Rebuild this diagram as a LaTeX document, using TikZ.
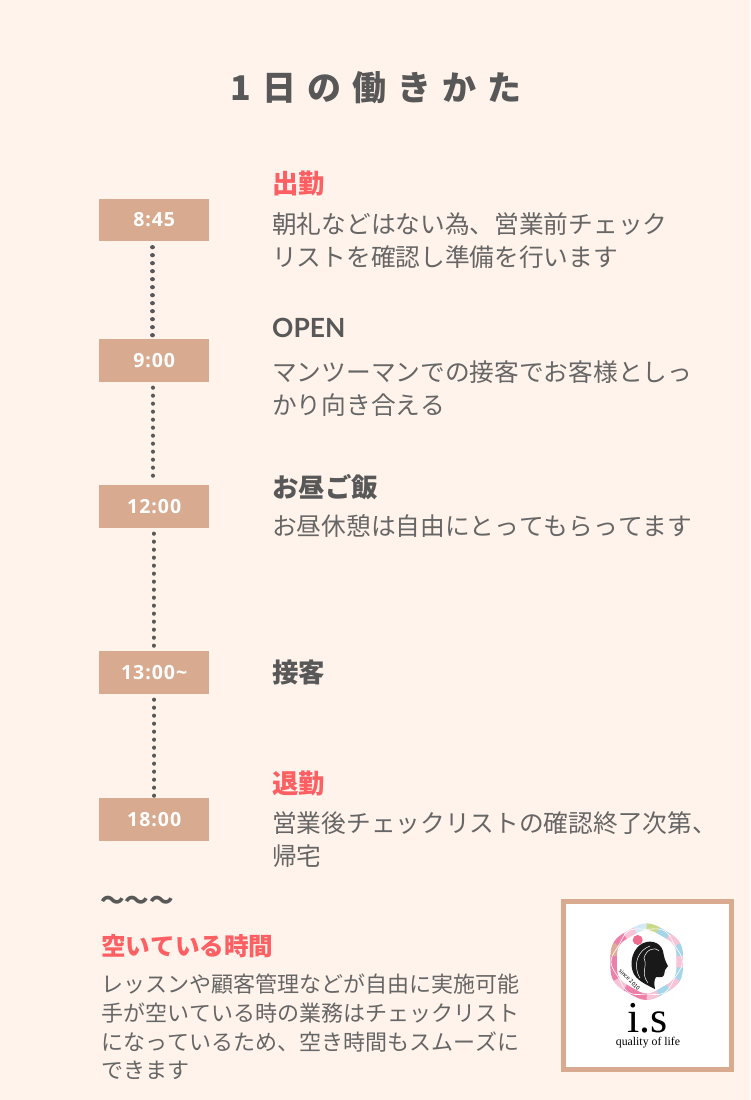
\documentclass[tikz,border=0pt]{standalone}
\usepackage{fontspec}
\setmainfont{Noto Sans CJK JP}[RawFeature=-kern]
\newfontfamily\logofont{Liberation Serif}
\newfontfamily\latinfont{Lato}
\newfontfamily\timefont{Open Sans}[LetterSpace=5]
\definecolor{bgpeach}{HTML}{FFF3EB}
\definecolor{boxtan}{HTML}{D8AB90}
\definecolor{inkgray}{HTML}{585858}
\definecolor{bodygray}{HTML}{666666}
\definecolor{headred}{HTML}{FD5F63}
\definecolor{ringpink}{HTML}{EE7FA8}
\definecolor{ringrose}{HTML}{F7C3D6}
\definecolor{ringblue}{HTML}{A5D5E8}
\definecolor{ringgreen}{HTML}{C9D98A}
\newcommand{\fsz}[2]{\fontsize{#1}{#2}\selectfont}

\begin{document}
\begin{tikzpicture}[x=1pt,y=-1pt,
    timebox/.style={fill=boxtan,text=white,minimum width=110.5pt,minimum height=42.5pt,inner sep=0pt,font=\timefont\fsz{19.5}{22}\bfseries},
    dotline/.style={line width=4.2pt,line cap=round,dash pattern=on 0.01pt off 7.99pt,inkgray},
    titletext/.style={anchor=west,inner sep=0pt,text=inkgray,font=\fsz{26.4}{32}\bfseries},
    redtext/.style={titletext,text=headred},
    bodytext/.style={anchor=north west,inner sep=0pt,align=left,text=bodygray,font=\fsz{24.7}{33}},
    smalltext/.style={bodytext,font=\fsz{22}{28.7}},
    logotext/.style={inner sep=0pt,text=black}]

    \useasboundingbox (0,0) rectangle (750,1100);
    \fill[bgpeach] (0,0) rectangle (750,1100);

    \node[inner sep=0pt,text=inkgray,font=\fsz{34}{40}\bfseries] (title) at (376,88) {1\hspace{11pt}日\hspace{11pt}の\hspace{11pt}働\hspace{11pt}き\hspace{11pt}か\hspace{11pt}た};

    % time column
    \node[timebox] (t845) at (154.2,220) {8:45};
    \node[timebox] (t900) at (154.2,360.5) {9:00};
    \node[timebox] (t1200) at (154.2,506.5) {12:00};
    \node[timebox] (t1300) at (154.2,672.5) {13:00\char"7E};
    \node[timebox] (t1800) at (154.2,819.5) {18:00};
    \foreach \a/\b/\dx in {t845/t900/-1.7,t900/t1200/-1.2,t1200/t1300/-0.6,t1300/t1800/0}
        \draw[dotline] ([xshift=\dx pt,yshift=-5.7pt]\a.south) -- ([xshift=\dx pt,yshift=2pt]\b.north);

    % right column
    \node[redtext] (go) at (272,184) {出勤};
    \node[bodytext] (gotext) at (272,212) {朝礼などはない為、営業前チェック\\リストを確認し準備を行います};
    \node[titletext,font=\latinfont\fsz{26.4}{32}\bfseries] (open) at (272,328) {OPEN};
    \node[bodytext] (opentext) at (272,361) {マンツーマンでの接客でお客様としっ\\かり向き合える};
    \node[titletext] (lunch) at (272,487) {お昼ご飯};
    \node[bodytext] (lunchtext) at (272,514) {お昼休憩は自由にとってもらってます};
    \node[titletext] (serve) at (272,672) {接客};
    \node[redtext] (leave) at (272,783) {退勤};
    \node[bodytext] (leavetext) at (272,811) {営業後チェックリストの確認終了次第、\\帰宅};

    % bottom left
    \node[anchor=west,inner sep=0pt,text=inkgray,font=\fsz{24.5}{30}\bfseries] (wave) at (100,903) {〜〜〜};
    \node[redtext,font=\fsz{24.6}{30}\bfseries] (free) at (101,946) {空いている時間};
    \node[smalltext] (freetext) at (101,974) {レッスンや顧客管理などが自由に実施可能\\手が空いている時の業務はチェックリスト\\になっているため、空き時間もスムーズに\\できます};

    % logo
    \node[draw=boxtan,line width=5pt,fill=white,minimum width=168pt,minimum height=168pt,inner sep=0pt] (logobox) at (647.3,985.5) {};
    \foreach \s/\c in {-30/ringblue,-10/ringrose,10/ringblue,30/ringrose,50/ringblue,70/ringrose,90/ringpink,110/ringpink,130/ringrose,150/ringpink,170/ringpink,190/ringgreen!50!ringpink,210/ringpink,230/ringrose,250/ringblue!50,270/ringgreen,290/ringblue,310/ringrose}
        \draw[\c,line width=6.5pt] plot[domain=\s:\s+21,samples=10] ({646.7+(34-cos(6*\x))*cos(\x)},{961.7+(34-cos(6*\x))*sin(\x)});
    \draw[white,line width=0.6pt] plot[domain=0:360,samples=90] ({646.7+(34+1.6*cos(6*\x))*cos(\x)},{961.7+(34+1.6*cos(6*\x))*sin(\x)});
    \fill[ringpink!85!red] (637.7,940) circle[radius=5];
    \fill[black!90] (655,989) .. controls (645,984) and (636,980) .. (633,972)
        .. controls (630,965) and (631,952) .. (640,945)
        .. controls (648,939) and (660,941) .. (663,951)
        .. controls (664,957) and (665,961) .. (668,966)
        .. controls (668,968) and (665,968) .. (665,970)
        .. controls (665,972) and (664,973) .. (664,975)
        .. controls (663,978) and (659,977) .. (656,977)
        .. controls (654,980) and (654,984) .. cycle;
    \draw[white,line width=0.5pt] (640,978) .. controls (632,965) and (638,950) .. (650,946);
    \draw[white,line width=0.5pt] (648,983) .. controls (640,972) and (648,968) .. (644,958) .. controls (646,950) and (654,946) .. (659,951);
    \node[logotext,rotate=-45,font=\fsz{5.6}{7}] (since) at (629.5,979.5) {since 2010};
    \node[logotext,anchor=base,font=\logofont\fsz{44}{44}] (brand) at (647.5,1032) {i.s};
    \node[logotext,anchor=base,font=\logofont\fsz{11.8}{14}] (quality) at (648,1045) {quality of life};

\end{tikzpicture}
\end{document}
